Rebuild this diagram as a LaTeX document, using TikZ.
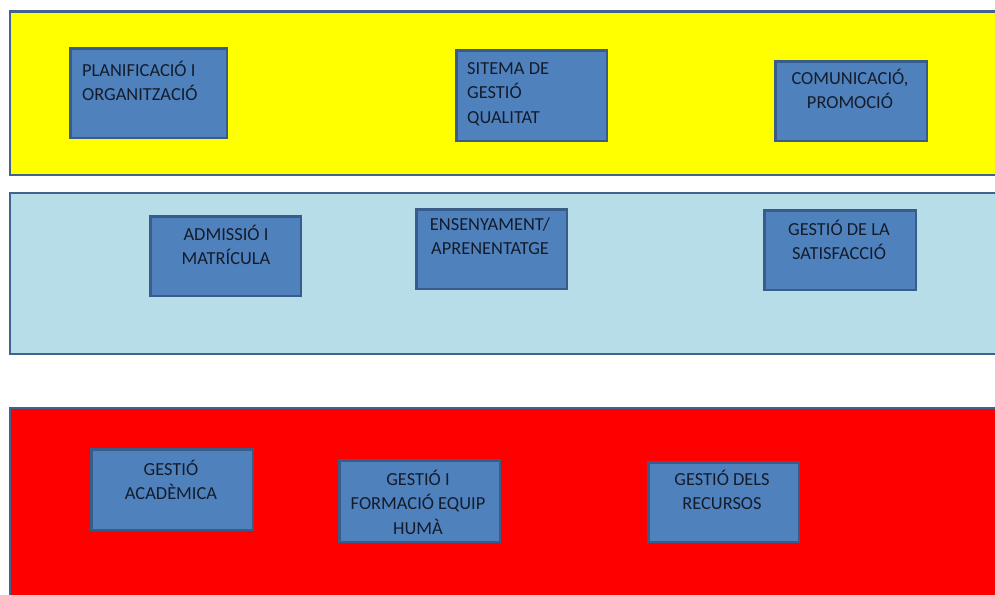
\documentclass[tikz,border=0pt]{standalone}
\usepackage{fontspec}
\setmainfont{Carlito}
\definecolor{bandline}{HTML}{41648F}
\definecolor{boxline}{HTML}{385D8A}
\definecolor{boxfill}{HTML}{4F81BD}
\definecolor{bandyellow}{HTML}{FFFF00}
\definecolor{bandcyan}{HTML}{B7DDE8}
\definecolor{bandred}{HTML}{FF0000}
\definecolor{txt}{HTML}{141C2B}
\begin{document}
\begin{tikzpicture}[x=1pt,y=-1pt,
  band/.style={draw=bandline, line width=2.5pt},
  proc/.style={draw=boxline, fill=boxfill, line width=2.5pt, inner sep=0pt, anchor=north west},
  lbl/.style={font=\fontsize{18.4}{24.5}\selectfont, text=txt, inner sep=0pt}]
\useasboundingbox (0,0) rectangle (995,594);
\fill[white] (0,0) rectangle (995,594);
\clip (0,0) rectangle (995,594);
% bands
\draw[band, fill=bandyellow] (10,11.5) rectangle (1010,175);
\draw[band, fill=bandcyan] (10,193) rectangle (1010,354);
\draw[band, fill=bandred] (10,408) rectangle (1010,610);
% top band
\node[proc, minimum width=156.5pt, minimum height=89.5pt] (p1) at (69.25,47.25) {};
\node[lbl, anchor=base west, align=left] (p1t) at (82,100.5) {PLANIFICACIÓ I\\ORGANITZACIÓ};
\node[proc, minimum width=150.5pt, minimum height=90.5pt] (p2) at (455.25,49.25) {};
\node[lbl, anchor=base west, align=left] (p2t) at (467,123) {SITEMA DE\\GESTIÓ\\QUALITAT};
\node[proc, minimum width=151.5pt, minimum height=79.5pt] (p3) at (774.25,60.25) {};
\node[lbl, anchor=base, align=center] (p3t) at (850,108.5) {COMUNICACIÓ,\\PROMOCIÓ};
% middle band
\node[proc, minimum width=150.5pt, minimum height=79.5pt] (p4) at (149.25,215.25) {};
\node[lbl, anchor=base, align=center] (p4t) at (226,264.5) {ADMISSIÓ I\\MATRÍCULA};
\node[proc, minimum width=150.5pt, minimum height=79.5pt] (p5) at (415.25,208.25) {};
\node[lbl, anchor=base, align=center] (p5t) at (490,254.5) {ENSENYAMENT/\\APRENENTATGE};
\node[proc, minimum width=151.5pt, minimum height=79.5pt] (p6) at (763.25,209.25) {};
\node[lbl, anchor=base, align=center] (p6t) at (839,259.5) {GESTIÓ DE LA\\SATISFACCIÓ};
% bottom band
\node[proc, minimum width=161.5pt, minimum height=80.5pt] (p7) at (90.25,448.25) {};
\node[lbl, anchor=base, align=center] (p7t) at (171,499.5) {GESTIÓ\\ACADÈMICA};
\node[proc, minimum width=160.5pt, minimum height=81.5pt] (p8) at (338.25,459.25) {};
\node[lbl, anchor=base, align=center] (p8t) at (418,534) {GESTIÓ I\\FORMACIÓ EQUIP\\HUMÀ};
\node[proc, minimum width=150.5pt, minimum height=79.5pt] (p9) at (647.25,461.25) {};
\node[lbl, anchor=base, align=center] (p9t) at (722,509.5) {GESTIÓ DELS\\RECURSOS};
\end{tikzpicture}
\end{document}
